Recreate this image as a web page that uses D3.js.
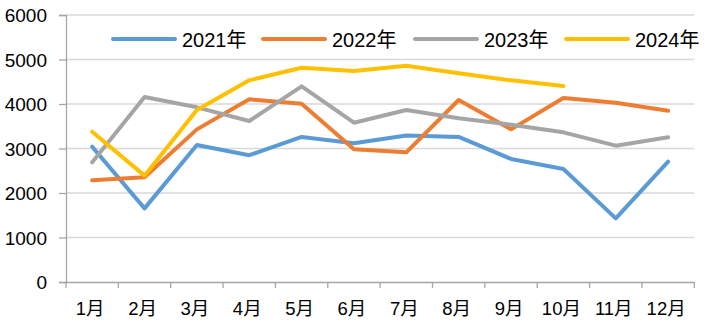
<!DOCTYPE html>
<html><head><meta charset="utf-8">
<script src="https://cdn.jsdelivr.net/npm/d3@7"></script>
<style>body{margin:0;background:#fff}svg{display:block}text{font-family:"Liberation Sans",Arial,"Noto Sans CJK SC",sans-serif;fill:#000}</style>
</head><body>
<svg id="c" width="719" height="325"></svg>
<script>
const months = ["1月","2月","3月","4月","5月","6月","7月","8月","9月","10月","11月","12月"];
const yTicks = [0,1000,2000,3000,4000,5000,6000];
const seriesNames = ["2021年","2022年","2023年","2024年"];
const seriesColors = ["#5B9BD5","#ED7D31","#A5A5A5","#FFC000"];
const s2021 = [3040,1655,3080,2850,3260,3120,3290,3260,2765,2540,1430,2705];
const s2022 = [2285,2352,3430,4105,4008,2985,2914,4090,3430,4135,4030,3850];
const s2023 = [2690,4157,3925,3618,4397,3580,3865,3678,3535,3363,3064,3251];
const s2024 = [3378,2390,3865,4532,4816,4741,4861,4690,4532,4404];
const allSeries = [s2021,s2022,s2023,s2024];

const svg = d3.select("#c");
const L=66, R=694.3, T=15, B=282;
const x = d3.scaleBand().domain(months).range([L,R]).padding(0);
const y = d3.scaleLinear().domain([0,6000]).range([B,T]);

// gridlines
svg.append("g").selectAll("line").data(yTicks.filter(d=>d>0)).join("line")
  .attr("x1",L).attr("x2",R).attr("y1",d=>y(d)).attr("y2",d=>y(d))
  .attr("stroke","#d9d9d9").attr("stroke-width",1.3);

// y axis
const ya = svg.append("g").attr("transform",`translate(${L},0)`)
  .call(d3.axisLeft(y).tickValues(yTicks).tickSize(7).tickPadding(12).tickFormat(d3.format("d")));
ya.select(".domain").attr("stroke","#a6a6a6").attr("stroke-width",1.3);
ya.selectAll(".tick line").attr("stroke","#a6a6a6").attr("stroke-width",1.3);
ya.selectAll("text").attr("font-size",19).attr("dy","0.35em")
  .style("font-family",'"Liberation Sans",Arial,sans-serif');

// x axis
const xa = svg.append("g").attr("transform",`translate(0,${B})`)
  .call(d3.axisBottom(x).tickSize(0).tickPadding(20));
xa.select(".domain").attr("stroke","#a6a6a6").attr("stroke-width",1.3);
xa.selectAll("text").attr("font-size",18.5).attr("dx",-2);
const bounds = months.map(m=>x(m)).concat([R]);
xa.selectAll("line.b").data(bounds).join("line").attr("class","b")
  .attr("x1",d=>d).attr("x2",d=>d).attr("y1",0).attr("y2",6)
  .attr("stroke","#a6a6a6").attr("stroke-width",1.3);

// lines
const line = d3.line().x((d,i)=>x(months[i])+x.bandwidth()/2).y(d=>y(d));
svg.append("g").selectAll("path").data(allSeries).join("path")
  .attr("d",d=>line(d)).attr("fill","none")
  .attr("stroke",(d,i)=>seriesColors[i]).attr("stroke-width",4)
  .attr("stroke-linejoin","round").attr("stroke-linecap","round");

// legend
const legX = [113,263,415,566];
const lg = svg.append("g");
seriesNames.forEach((n,i)=>{
  lg.append("line").attr("x1",legX[i]).attr("x2",legX[i]+62).attr("y1",39).attr("y2",39)
    .attr("stroke",seriesColors[i]).attr("stroke-width",4).attr("stroke-linecap","round");
  lg.append("text").attr("x",legX[i]+69).attr("y",46.5).attr("font-size",20).text(n);
});
</script>
</body></html>
